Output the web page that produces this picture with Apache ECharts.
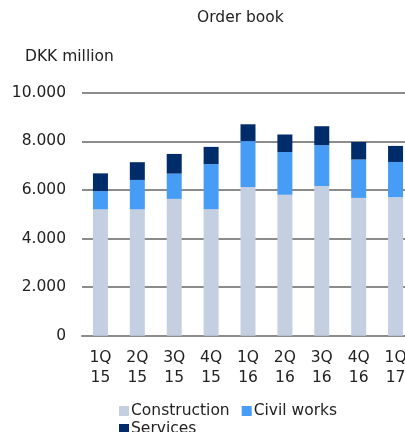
<!DOCTYPE html>
<html>
<head>
    <meta charset="utf-8">
    <title>Order book</title>
    <script src="https://cdn.jsdelivr.net/npm/echarts@6.0.0/dist/echarts.min.js"></script>
    <style>
        html, body { margin: 0; background: #fff; overflow: hidden; }
        /* 图表比窗口略宽，网格线延伸到右边缘外 */
        #chart { width: 414px; height: 432px; }
    </style>
</head>
<body>
    <div id="chart"></div>
    <script>
        // 季度
        var quarters = ['1Q\n15', '2Q\n15', '3Q\n15', '4Q\n15', '1Q\n16', '2Q\n16', '3Q\n16', '4Q\n16', '1Q\n17'];
        // DKK million
        var construction = [5200, 5200, 5630, 5210, 6120, 5800, 6160, 5670, 5700];
        var civilWorks = [750, 1210, 1040, 1850, 1890, 1760, 1680, 1580, 1450];
        var services = [730, 730, 810, 710, 690, 720, 780, 720, 660];
        var yTicks = { min: 0, max: 10000, interval: 2000 };

        var font = '"DejaVu Sans", Verdana, sans-serif';
        var txt = { fontFamily: font, fontSize: 15.5, fontWeight: 'normal', color: '#222' };
        var myChart = echarts.init(document.getElementById('chart'));

        function fmt(v) {
            return String(v).replace(/\B(?=(\d{3})+(?!\d))/g, '.');
        }

        var legendBase = {
            padding: 0,
            itemWidth: 10,
            itemHeight: 10,
            itemGap: 12,
            icon: 'rect',
            textStyle: { fontFamily: font, fontSize: 15.5, color: '#222', padding: [0, 0, 0, -3] }
        };

        var option = {
            backgroundColor: '#fff',
            animation: false,
            title: [{
                text: 'Order book',
                left: 197,
                top: 10,
                padding: 0,
                textStyle: txt
            }, {
                text: 'DKK million',
                left: 25,
                top: 49,
                padding: 0,
                textStyle: txt
            }],
            legend: [
                Object.assign({ left: 119, top: 403, data: ['Construction', 'Civil works'] }, legendBase),
                Object.assign({ left: 119, top: 421, data: ['Services'] }, legendBase)
            ],
            grid: { left: 82, right: 0, top: 92.7, bottom: 96.3, containLabel: false },
            xAxis: {
                type: 'category',
                data: quarters,
                axisTick: { show: false },
                axisLine: { lineStyle: { color: '#8c8c8c', width: 2 } },
                axisLabel: {
                    fontFamily: font, fontSize: 15.5, color: '#222',
                    margin: 12, lineHeight: 20, interval: 0
                }
            },
            yAxis: {
                type: 'value',
                min: yTicks.min,
                max: yTicks.max,
                interval: yTicks.interval,
                axisLine: { show: false },
                axisTick: { show: false },
                splitLine: { lineStyle: { color: '#8c8c8c', width: 2 } },
                axisLabel: {
                    fontFamily: font, fontSize: 15.5, color: '#222', margin: 16,
                    formatter: fmt
                }
            },
            series: [{
                name: 'Construction',
                type: 'bar',
                stack: 'total',
                barWidth: 15,
                data: construction,
                itemStyle: { color: '#c5cfe2' }
            }, {
                name: 'Civil works',
                type: 'bar',
                stack: 'total',
                barWidth: 15,
                data: civilWorks,
                itemStyle: { color: '#479df5' }
            }, {
                name: 'Services',
                type: 'bar',
                stack: 'total',
                barWidth: 15,
                data: services,
                itemStyle: { color: '#002c69' }
            }]
        };

        myChart.setOption(option);
    </script>
</body>
</html>
